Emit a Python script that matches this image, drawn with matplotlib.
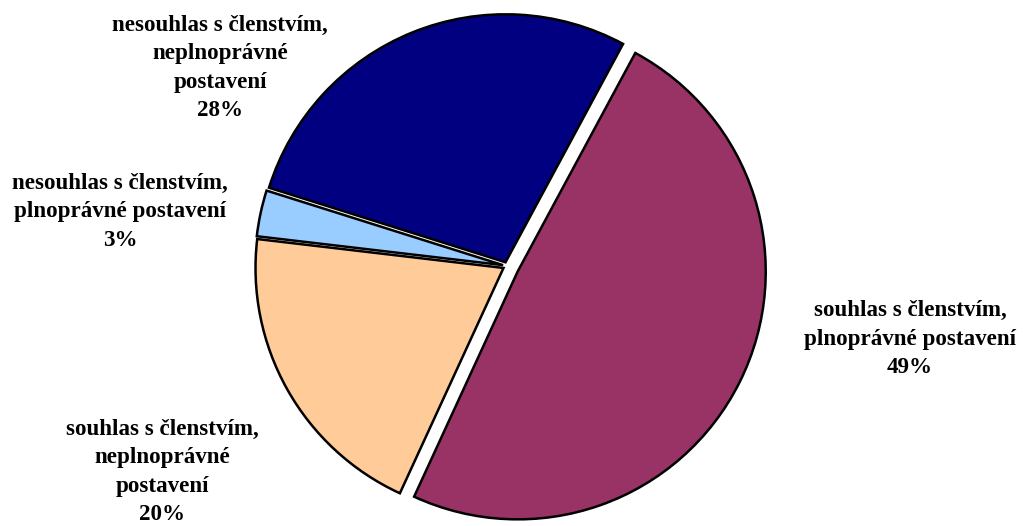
import matplotlib
matplotlib.use("Agg")
import matplotlib.pyplot as plt

categories = [
    "souhlas s členstvím,\nplnoprávné postavení",
    "souhlas s členstvím,\nneplnoprávné\npostavení",
    "nesouhlas s členstvím,\nplnoprávné postavení",
    "nesouhlas s členstvím,\nneplnoprávné\npostavení",
]
values = [49, 20, 3, 28]
colors = ["#993366", "#FFCC99", "#99CCFF", "#000080"]
explode = [12, 4, 4, 4]
label_pos = [(910, 526 - 339), (162, 526 - 472), (120, 526 - 212), (220, 526 - 68)]

fig = plt.figure(figsize=(10.23, 5.26), dpi=100)
ax = fig.add_axes([0, 0, 1, 1])

ax.pie(values, colors=colors, explode=explode, startangle=61.7,
       counterclock=False, center=(507, 526 - 266), radius=248,
       wedgeprops=dict(edgecolor="black", linewidth=1.8),
       frame=True)
ax.set_xlim(0, 1023)
ax.set_ylim(0, 526)
ax.set_aspect("equal")
ax.axis("off")

for cat, v, (x, y) in zip(categories, values, label_pos):
    ax.text(x, y, f"{cat}\n{v}%", ha="center", va="center",
            multialignment="center", fontsize=16.6, fontweight="bold",
            family="Liberation Serif", linespacing=1.44)

fig.savefig("out.png", dpi=100)
